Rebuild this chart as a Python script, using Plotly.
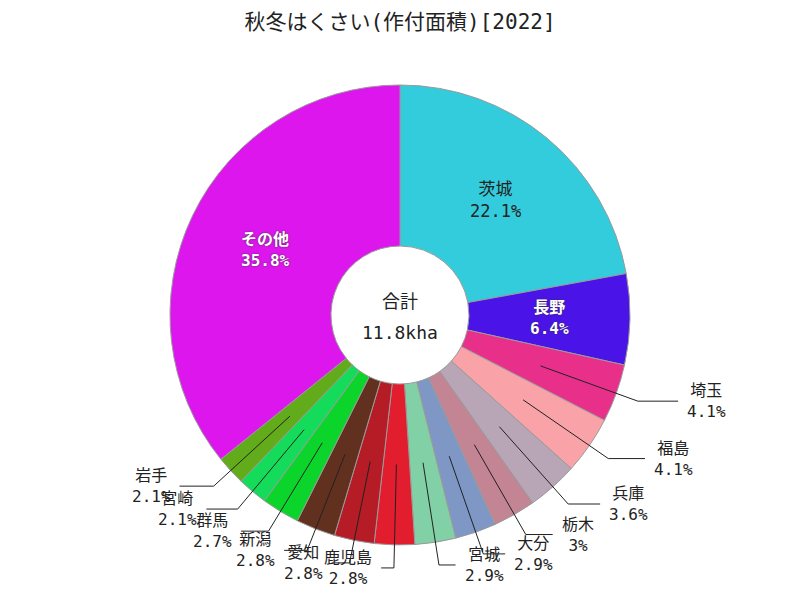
import math
import plotly.graph_objects as go

labels = ["茨城", "長野", "埼玉", "福島", "兵庫", "栃木", "大分", "宮城",
          "鹿児島", "愛知", "新潟", "群馬", "宮崎", "岩手", "その他"]
values_ha = [2620, 755, 484, 481, 425, 355, 342, 340, 334, 332, 328, 316, 250, 245, 4240]
colors = ["#33CCDC", "#4A14E8", "#E8308A", "#F9A3A9", "#B8A5B6", "#C38494",
          "#7F97C5", "#82D0A6", "#E11D2E", "#B51C26", "#62301F", "#0BD42B",
          "#14DC5A", "#62AB1B", "#DD16EE"]
title_text = "秋冬はくさい(作付面積)[2022]"
center_label = "合計"

W, H = 800, 600
CX, CY, R = 400, 315, 230          # pie centre / radius in pixels
HOLE = 0.3
R_START = R * (1 + HOLE) / 2       # leader line starts mid-ring
R_ELBOW = R * 1.1

font_family = "DejaVu Sans Mono, Noto Sans CJK JP"
text_color = "#222222"

total = sum(values_ha)


def fmt_pct(v):
    p = round(v / total * 100, 1)
    s = f"{p:.1f}"
    if s.endswith(".0"):
        s = s[:-2]
    return s + "%"


def px(x, y):
    return x / W, 1 - y / H


def polar(r, theta_deg):
    t = math.radians(theta_deg)
    return CX + r * math.sin(t), CY - r * math.cos(t)


fig = go.Figure(go.Pie(
    labels=labels,
    values=values_ha,
    sort=False,
    direction="clockwise",
    hole=HOLE,
    automargin=False,
    textinfo="none",
    hoverinfo="label+percent+value",
    marker=dict(colors=colors, line=dict(color="#9a9a9a", width=1)),
    domain=dict(x=[(CX - R) / W, (CX + R) / W], y=[1 - (CY + R) / H, 1 - (CY - R) / H]),
    showlegend=False,
))

annotations = []
shapes = []
cum = 0
for lab, v, col in zip(labels, values_ha, colors):
    frac = v / total
    theta = (cum + v / 2) / total * 360
    cum += v
    txt = f"{lab}<br>{fmt_pct(v)}"
    if frac > 0.05:
        x, y = polar(R_START, theta)
        dark = col == "#33CCDC"
        annotations.append(dict(
            text=txt, x=px(x, y)[0], y=px(x, y)[1], xref="paper", yref="paper",
            showarrow=False, align="center", xanchor="center", yanchor="middle",
            font=dict(size=17 if dark else 16, family=font_family,
                      color=text_color if dark else "white",
                      weight="normal" if dark else "bold",
                      shadow="none" if dark else "0px 0px 2px #333333"),
        ))
    else:
        x0, y0 = polar(R_START, theta)
        x1, y1 = polar(R_ELBOW, theta)
        s = math.sin(math.radians(theta))
        side = 1 if s > 0 else -1
        length = 12 + 30 * abs(s)
        x2 = x1 + side * length
        p0, p1, p2 = px(x0, y0), px(x1, y1), px(x2, y1)
        shapes.append(dict(
            type="path", xref="paper", yref="paper",
            path=f"M {p0[0]},{p0[1]} L {p1[0]},{p1[1]} L {p2[0]},{p2[1]}",
            line=dict(color=text_color, width=1),
        ))
        tx = x2 + side * 7
        annotations.append(dict(
            text=txt, x=tx / W, y=1 - y1 / H, xref="paper", yref="paper",
            showarrow=False, align="center",
            xanchor="left" if side > 0 else "right", yanchor="middle",
            font=dict(size=16, family=font_family, color=text_color),
        ))

annotations.append(dict(
    text=center_label, x=px(CX, 301)[0], y=px(CX, 301)[1], xref="paper", yref="paper",
    showarrow=False, font=dict(size=18, family=font_family, color=text_color)))
annotations.append(dict(
    text=f"{total/1000:.1f}kha", x=px(CX, 332)[0], y=px(CX, 332)[1], xref="paper", yref="paper",
    showarrow=False, font=dict(size=18, family=font_family, color=text_color)))

fig.update_layout(
    width=W, height=H,
    margin=dict(l=0, r=0, t=0, b=0, autoexpand=False),
    paper_bgcolor="white",
    title=dict(text=title_text, x=0.5, xanchor="center", y=1 - 22 / H, yanchor="middle",
               font=dict(size=21, family=font_family, color=text_color)),
    annotations=annotations,
    shapes=shapes,
)

fig.write_html("out.html")
